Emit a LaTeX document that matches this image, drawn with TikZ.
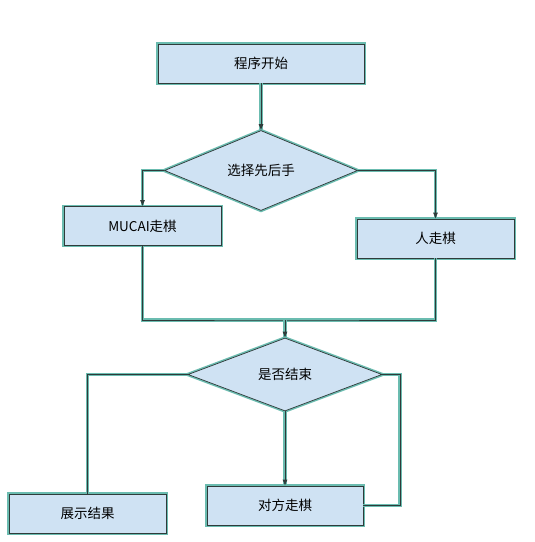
\documentclass[tikz,border=0pt]{standalone}
\usepackage{fontspec}
\newfontfamily\cjk{Noto Sans CJK SC}
\usetikzlibrary{shapes.geometric,arrows.meta}
\definecolor{tealc}{HTML}{6BBCB0}
\definecolor{fillc}{HTML}{CFE2F3}
\definecolor{corec}{HTML}{2F3B3A}
\tikzset{
  boxbase/.style={fill=fillc, draw=corec, line width=0.7pt,
    preaction={draw=tealc, line width=3.6pt},
    inner sep=0pt, font=\cjk\fontsize{13.5}{15}\selectfont, text=black},
  procbox/.style={boxbase, rectangle, minimum width=157pt, minimum height=39pt},
  decbox/.style={boxbase, diamond, minimum width=194pt, minimum height=73pt},
  conn/.style={draw=corec, line width=0.7pt,
    preaction={draw=tealc, line width=3.4pt, arrows=-}},
  arr/.style={conn, -{Latex[length=6pt,width=5pt]}, shorten >=0pt},
}
\begin{document}
\begin{tikzpicture}[x=1pt,y=-1pt]
\useasboundingbox (0,0) rectangle (535,542);
\fill[white] (0,0) rectangle (535,542);
\node[procbox, minimum width=206pt] (start) at (261,63.5) {程序开始};
\node[decbox, minimum width=193pt] (d1) at (261,170.5) {选择先后手};
\node[procbox] (mucai) at (142.5,226) {MUCAI走棋};
\node[procbox] (ren) at (435.5,238.5) {人走棋};
\node[decbox] (d2) at (285,374.5) {是否结束};
\node[procbox] (show) at (87.5,513.5) {展示结果};
\node[procbox, minimum width=156pt] (opp) at (285,505.5) {对方走棋};
\coordinate (mj) at (285,320);
\coordinate (rt) at (400,374.5);
\draw[arr] (start) -- (d1);
\draw[arr] (d1.west) -| (mucai.north);
\draw[arr] (d1.east) -| (ren.north);
\draw[conn] (mucai.south) |- (mj) -| (ren.south);
\draw[arr] (mj) -- (d2.north);
\draw[conn] (d2.west) -| (show.north);
\draw[arr] (d2.south) -- (opp.north);
\draw[conn] (d2.east) -- (rt) |- (opp.east);
\end{tikzpicture}
\end{document}
